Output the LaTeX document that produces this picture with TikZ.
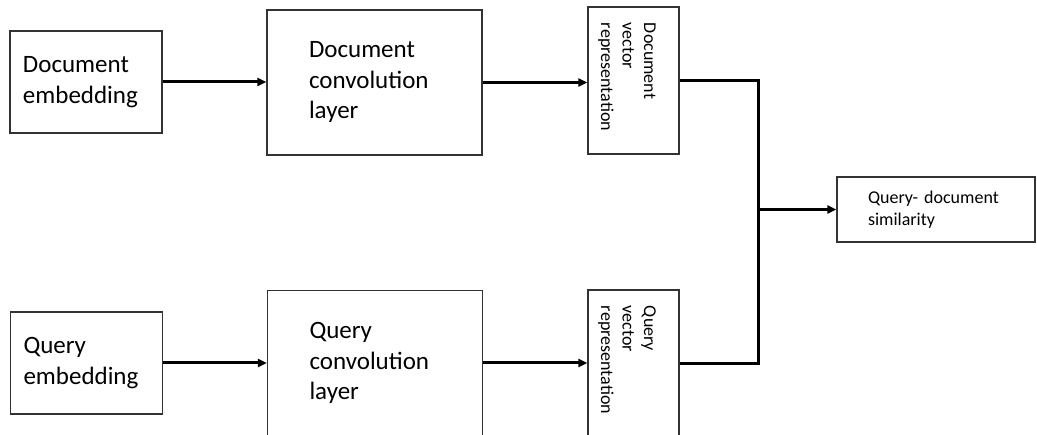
\documentclass[tikz,border=0pt]{standalone}
\usepackage{fontspec}
\setmainfont{Carlito}
\usetikzlibrary{arrows.meta}

\tikzset{
  box/.style={draw=black!80, line width=1.2pt, rectangle, inner ysep=0pt, align=left},
  bigtext/.style={font=\fontsize{25}{30.5}\selectfont},
  smalltext/.style={font=\fontsize{18}{21.5}\selectfont},
  link/.style={line width=3pt, draw=black},
  conn/.style={link, -{Triangle[length=9pt,width=8pt]}},
}

\begin{document}
\begin{tikzpicture}[x=1pt, y=1pt]
  \useasboundingbox (0,0) rectangle (1037,435);
  \clip (0,0) rectangle (1037,435);

  % document branch
  \node[box, bigtext, minimum width=152pt, minimum height=102pt,
        text width=126pt, inner xsep=13pt] (demb) at (86,353) {Document\\embedding};
  \node[box, bigtext, minimum width=215pt, minimum height=145pt,
        text width=131pt, inner xsep=42pt] (dconv) at (374.5,352.5) {Document\\convolution\\layer};
  \node[box, smalltext, rotate=-90, minimum width=147pt, minimum height=91pt,
        text width=115pt, inner xsep=16pt] (dvec) at (633.5,354.5) {\mbox{}\\[3pt]Document\\vector\\representation};

  % query branch
  \node[box, bigtext, minimum width=152pt, minimum height=102pt,
        text width=126pt, inner xsep=13pt] (qemb) at (86.5,72) {Query\\embedding};
  \node[box, bigtext, minimum width=215pt, minimum height=145pt,
        text width=131pt, inner xsep=42pt] (qconv) at (375,72) {Query\\convolution\\layer};
  \node[box, smalltext, rotate=-90, minimum width=147pt, minimum height=91pt,
        text width=115pt, inner xsep=16pt] (qvec) at (633.5,71.5) {\mbox{}\\[3pt]Query\\vector\\representation};

  % output
  \node[box, smalltext, minimum width=198pt, minimum height=65pt,
        text width=136pt, inner xsep=31pt] (sim) at (936,225.5) {Query- document\\similarity};

  \coordinate (j) at (758,225.5);

  % connectors
  \draw[conn] (demb.east) -- (demb.east -| dconv.west);
  \draw[conn] (dconv.east) -- (dconv.east -| dvec.south);
  \draw[conn] (qemb.east) -- (qemb.east -| qconv.west);
  \draw[conn] (qconv.east) -- (qconv.east -| qvec.south);
  \draw[link] (dvec.north) -| (j);
  \draw[link] (qvec.north) -| (j);
  \draw[conn] (j) -- (sim.west);
\end{tikzpicture}
\end{document}
